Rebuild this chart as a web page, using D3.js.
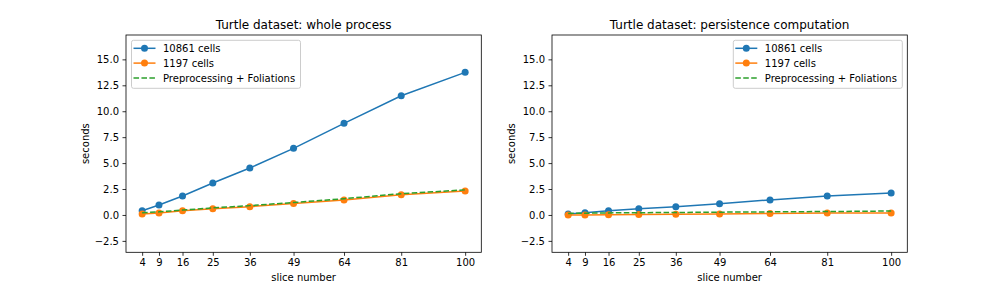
<!DOCTYPE html>
<html>
<head>
<meta charset="utf-8">
<script src="https://cdn.jsdelivr.net/npm/d3@7"></script>
<style>
  body { margin: 0; background: #fff; }
  text { font-family: "DejaVu Sans", sans-serif; fill: #000; }
</style>
</head>
<body>
<div id="chart"></div>
<script>
// data
var slices = [4, 9, 16, 25, 36, 49, 64, 81, 100];
var xTicks = [4, 9, 16, 25, 36, 49, 64, 81, 100];
var yTicks = [-2.5, 0, 2.5, 5, 7.5, 10, 12.5, 15];

var wholeBig = [0.41, 0.96, 1.83, 3.08, 4.53, 6.42, 8.83, 11.49, 13.75];
var wholeSmall = [0.1, 0.2, 0.4, 0.6, 0.8, 1.1, 1.45, 1.95, 2.3];
var wholePre = [0.22, 0.3, 0.47, 0.68, 0.9, 1.2, 1.57, 2.05, 2.42];

var persBig = [0.1, 0.22, 0.4, 0.6, 0.8, 1.09, 1.45, 1.83, 2.12];
var persSmall = [0.0, 0.0, 0.02, 0.05, 0.07, 0.1, 0.15, 0.18, 0.2];
var persPre = [0.15, 0.17, 0.2, 0.22, 0.24, 0.27, 0.3, 0.33, 0.38];

var labels = ["10861 cells", "1197 cells", "Preprocessing + Foliations"];
var colors = ["#1f77b4", "#ff7f0e", "#2ca02c"];

var W = 1008, H = 288;
var svg = d3.select("#chart").append("svg")
    .attr("width", W).attr("height", H);

function panel(left, title, big, small, pre, legendRight) {
    var top = 35, w = 355.3, h = 217.3;
    var x = d3.scaleLinear().domain([-0.8, 104.8]).range([0, w]);
    var y = d3.scaleLinear().domain([-3.6, 17.35]).range([h, 0]);
    var g = svg.append("g").attr("transform", "translate(" + left + "," + top + ")");

    var clip = "clip" + Math.round(left);
    g.append("clipPath").attr("id", clip)
        .append("rect").attr("width", w).attr("height", h);

    var plot = g.append("g").attr("clip-path", "url(#" + clip + ")");
    var line = d3.line().x(function(d, i){ return x(slices[i]); }).y(function(d){ return y(d); });

    // series: blue, orange, then green dashed on top
    [big, small].forEach(function(s, k){
        plot.append("path").datum(s)
            .attr("d", line).attr("fill", "none")
            .attr("stroke", colors[k]).attr("stroke-width", 1.5);
        plot.selectAll(".m" + k).data(s).enter().append("circle")
            .attr("cx", function(d, i){ return x(slices[i]); })
            .attr("cy", function(d){ return y(d); })
            .attr("r", 3.5).attr("fill", colors[k]);
    });
    plot.append("path").datum(pre)
        .attr("d", line).attr("fill", "none")
        .attr("stroke", colors[2]).attr("stroke-width", 1.5)
        .attr("stroke-dasharray", "5.55,2.4");

    // axes
    var xa = g.append("g").attr("transform", "translate(0," + h + ")")
        .call(d3.axisBottom(x).tickValues(xTicks).tickSize(3.5).tickPadding(3.5).tickFormat(d3.format("d")));
    var ya = g.append("g")
        .call(d3.axisLeft(y).tickValues(yTicks).tickSize(3.5).tickPadding(3.5)
            .tickFormat(function(d){ return d3.format(".1f")(d).replace("-", "\u2212"); }));
    [xa, ya].forEach(function(a){
        a.select(".domain").remove();
        a.selectAll("line").attr("stroke", "#000").attr("stroke-width", 0.8);
        a.selectAll("text").attr("font-size", 10).attr("font-family", "DejaVu Sans");
    });

    g.append("rect").attr("width", w).attr("height", h)
        .attr("fill", "none").attr("stroke", "#000").attr("stroke-width", 0.8);

    g.append("text").attr("x", w / 2).attr("y", -6)
        .attr("text-anchor", "middle").attr("font-size", 12).text(title);
    g.append("text").attr("x", w / 2).attr("y", h + 28.5)
        .attr("text-anchor", "middle").attr("font-size", 10).text("slice number");
    g.append("text")
        .attr("transform", "translate(" + (-37.5) + "," + (h / 2) + ") rotate(-90)")
        .attr("text-anchor", "middle").attr("font-size", 10).text("seconds");

    // legend
    var lw = 169, lh = 48;
    var lx = legendRight ? w - lw - 5 : 5.5;
    var lg = g.append("g").attr("transform", "translate(" + lx + ",5.3)");
    lg.append("rect").attr("width", lw).attr("height", lh).attr("rx", 2)
        .attr("fill", "#fff").attr("fill-opacity", 0.8)
        .attr("stroke", "#ccc").attr("stroke-width", 1);
    labels.forEach(function(lab, k){
        var cy = 8 + k * 14.8;
        var item = lg.append("g").attr("transform", "translate(0," + cy + ")");
        item.append("line").attr("x1", 2).attr("x2", 24)
            .attr("stroke", colors[k]).attr("stroke-width", 1.5)
            .attr("stroke-dasharray", k === 2 ? "5.55,2.4" : null);
        if (k < 2) item.append("circle").attr("cx", 13).attr("r", 3.5).attr("fill", colors[k]);
        item.append("text").attr("x", 31.5).attr("y", 3.6)
            .attr("font-size", 10).text(lab);
    });
}

panel(126, "Turtle dataset: whole process", wholeBig, wholeSmall, wholePre, false);
panel(552, "Turtle dataset: persistence computation", persBig, persSmall, persPre, true);
</script>
</body>
</html>
